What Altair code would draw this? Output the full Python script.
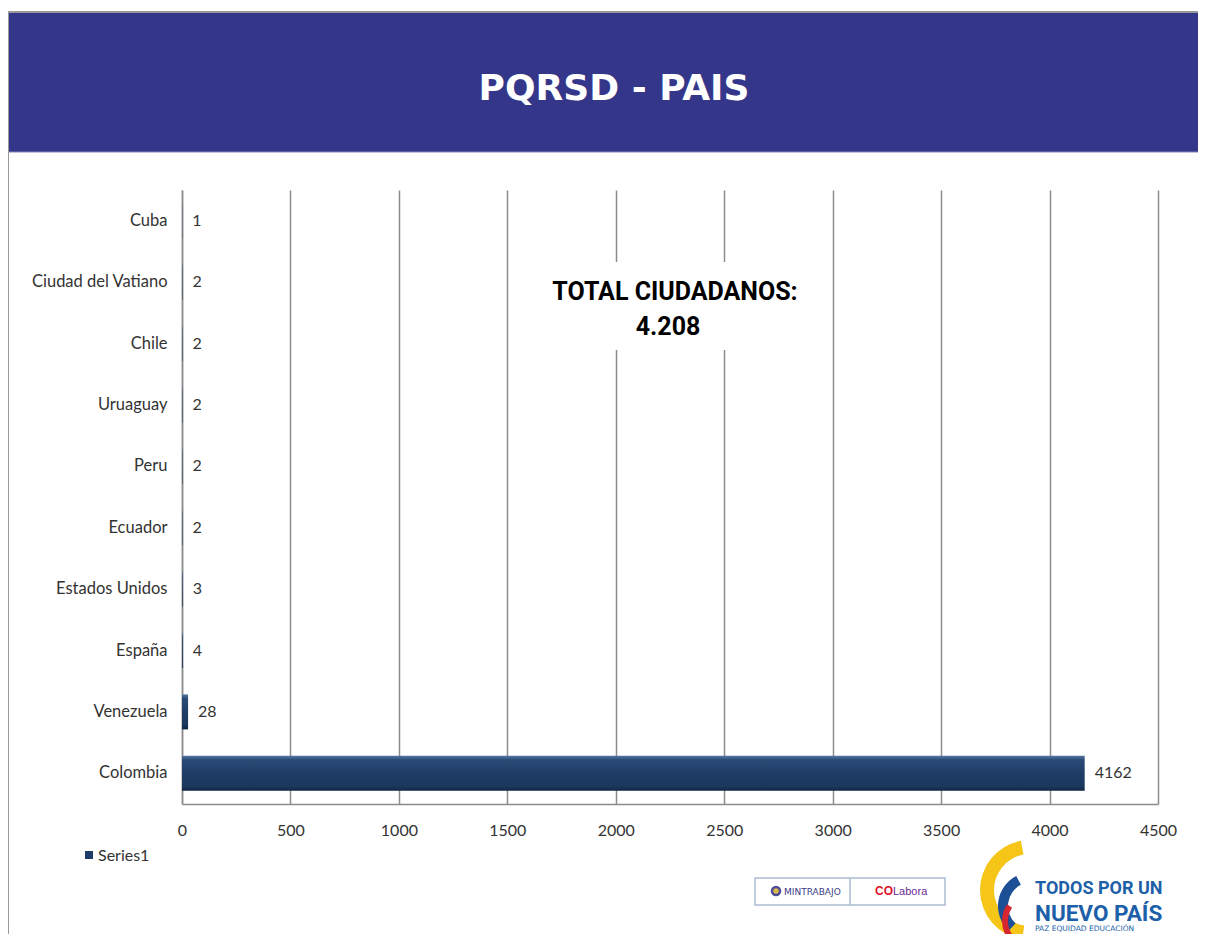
import altair as alt
import pandas as pd

# ---- data ----
paises = ["Cuba", "Ciudad del Vatiano", "Chile", "Uruaguay", "Peru",
          "Ecuador", "Estados Unidos", "España", "Venezuela", "Colombia"]
valores = [1, 2, 2, 2, 2, 2, 3, 4, 28, 4162]
x_ticks = [0, 500, 1000, 1500, 2000, 2500, 3000, 3500, 4000, 4500]
titulo = "PQRSD - PAIS"
total_linea1 = "TOTAL CIUDADANOS:"
total_linea2 = "4.208"
serie = "Series1"

df = pd.DataFrame({"pais": paises, "valor": valores})
one = pd.DataFrame({"k": [0]})

W, H = 976, 614
NAVY = "#1f3d66"
GRID = "#8c8c8c"
LABEL_FONT = "Lato"
LOGO_BLUE = "#1d5fa8"

bar_grad = alt.Gradient(
    gradient="linear", x1=0, y1=0, x2=0, y2=1,
    stops=[alt.GradientStop(offset=0, color="#5577a3"),
           alt.GradientStop(offset=0.12, color="#2a4a76"),
           alt.GradientStop(offset=0.5, color="#1f3d66"),
           alt.GradientStop(offset=0.88, color="#1b375d"),
           alt.GradientStop(offset=1, color="#10253f")])

base = alt.Chart(df)

bars = base.mark_bar(color=bar_grad).encode(
    x=alt.X("valor:Q", scale=alt.Scale(domain=[0, 4500], nice=False),
            axis=alt.Axis(values=x_ticks, format="d", title=None, grid=True, ticks=False,
                          labelPadding=18, labelFontSize=16, labelFont=LABEL_FONT,
                          labelColor="#333333", gridColor=GRID, gridWidth=1.5,
                          domainColor=GRID, domainWidth=1.5, labelFlush=False)),
    y=alt.Y("pais:N", sort=paises,
            scale=alt.Scale(paddingInner=0.43, paddingOuter=0.215),
            axis=alt.Axis(title=None, ticks=False, grid=False, labelPadding=15,
                          labelFontSize=16.5, labelFont=LABEL_FONT, labelColor="#333333",
                          domainColor=GRID, domainWidth=1.5)),
)

labels = base.mark_text(align="left", baseline="middle", dx=10, fontSize=16,
                        font=LABEL_FONT, color="#333333").encode(
    x="valor:Q", y=alt.Y("pais:N", sort=paises), text="valor:Q")

dec = alt.Chart(one)

# header band
header = dec.mark_rect(color="#34368a").encode(
    x=alt.value(-173), x2=alt.value(W + 60), y=alt.value(-177), y2=alt.value(-38))
header_line = dec.mark_rule(color="#8a86c0", strokeWidth=1).encode(
    x=alt.value(-173), x2=alt.value(W + 60), y=alt.value(-38))
frame_top = dec.mark_rule(color="#999999", strokeWidth=2).encode(
    x=alt.value(-174), x2=alt.value(W + 60), y=alt.value(-178))
frame_left = dec.mark_rule(color="#999999", strokeWidth=2).encode(
    x=alt.value(-174), y=alt.value(-178), y2=alt.value(H + 160))
title = dec.mark_text(font="DejaVu Sans", fontWeight="bold", fontSize=36,
                      color="white", align="center", baseline="alphabetic").encode(
    x=alt.value(432), y=alt.value(-90), text=alt.value(titulo))

# total annotation
total_box = dec.mark_rect(color="white").encode(
    x=alt.value(358), x2=alt.value(628), y=alt.value(72), y2=alt.value(160))
total1 = dec.mark_text(font="Roboto", fontWeight="bold", fontSize=25, color="black",
                       align="center", baseline="alphabetic").encode(
    x=alt.value(493), y=alt.value(110), text=alt.value(total_linea1))
total2 = dec.mark_text(font="Roboto", fontWeight="bold", fontSize=25, color="black",
                       align="center", baseline="alphabetic").encode(
    x=alt.value(486), y=alt.value(145), text=alt.value(total_linea2))

# legend
leg_sq = dec.mark_square(color=NAVY, size=64, opacity=1).encode(
    x=alt.value(-93), y=alt.value(665))
leg_tx = dec.mark_text(align="left", baseline="middle", fontSize=16, font=LABEL_FONT,
                       color="#333333").encode(
    x=alt.value(-84), y=alt.value(666), text=alt.value(serie))

# bottom logos (decorative)
logo_box = dec.mark_rect(fill="white", stroke="#a9bcd3", strokeWidth=1.5).encode(
    x=alt.value(573), x2=alt.value(763), y=alt.value(688), y2=alt.value(715))
logo_div = dec.mark_rule(color="#a9bcd3", strokeWidth=1.5).encode(
    x=alt.value(668), y=alt.value(688), y2=alt.value(715))
logo_circ = dec.mark_circle(color="#4b4b96", size=110, opacity=1).encode(
    x=alt.value(594), y=alt.value(701))
logo_circ2 = dec.mark_circle(color="#d9b949", size=30, opacity=1).encode(
    x=alt.value(594), y=alt.value(701))
mintrabajo = dec.mark_text(align="left", baseline="alphabetic", fontSize=9,
                           font="DejaVu Sans", color="#3c3c86").encode(
    x=alt.value(602), y=alt.value(705), text=alt.value("MINTRABAJO"))
co = dec.mark_text(align="left", baseline="alphabetic", fontSize=12, fontWeight="bold",
                   font="Liberation Sans", color="#e0142d").encode(
    x=alt.value(693), y=alt.value(705), text=alt.value("CO"))
labora = dec.mark_text(align="left", baseline="alphabetic", fontSize=11,
                       font="Liberation Sans", color="#6b2c91").encode(
    x=alt.value(711), y=alt.value(705), text=alt.value("Labora"))

arc_y = dec.mark_arc(color="#f5c518").encode(
    x=alt.value(848), y=alt.value(700), radius=alt.value(50), radius2=alt.value(36),
    theta=alt.value(3.3), theta2=alt.value(6.1))
arc_b = dec.mark_arc(color="#1d4f96").encode(
    x=alt.value(850), y=alt.value(716), radius=alt.value(34), radius2=alt.value(24),
    theta=alt.value(3.9), theta2=alt.value(5.8))
arc_r = dec.mark_arc(color="#d6262f").encode(
    x=alt.value(850), y=alt.value(731), radius=alt.value(30), radius2=alt.value(24),
    theta=alt.value(4.1), theta2=alt.value(5.3))

todos = dec.mark_text(align="left", baseline="alphabetic", fontSize=18, fontWeight="bold",
                      font="Roboto", color=LOGO_BLUE).encode(
    x=alt.value(853), y=alt.value(704), text=alt.value("TODOS POR UN"))
nuevo = dec.mark_text(align="left", baseline="alphabetic", fontSize=22.5, fontWeight="bold",
                      font="Roboto", color=LOGO_BLUE).encode(
    x=alt.value(853), y=alt.value(731), text=alt.value("NUEVO PAÍS"))
paz = dec.mark_text(align="left", baseline="alphabetic", fontSize=7.5,
                    font="DejaVu Sans", color=LOGO_BLUE).encode(
    x=alt.value(853), y=alt.value(741), text=alt.value("PAZ   EQUIDAD   EDUCACIÓN"))

chart = alt.layer(
    header, header_line, frame_top, frame_left, title,
    bars, labels,
    total_box, total1, total2,
    leg_sq, leg_tx,
    logo_box, logo_div, logo_circ, logo_circ2, mintrabajo, co, labora,
    arc_y, arc_b, arc_r, todos, nuevo, paz,
).properties(
    width=W, height=H,
    padding={"left": 174, "top": 182, "right": 40, "bottom": 130},
    autosize=alt.AutoSizeParams(type="none"),
    background="white",
).configure_view(stroke=None)

chart.save("out.html", embed_options={"renderer": "svg", "actions": False})
